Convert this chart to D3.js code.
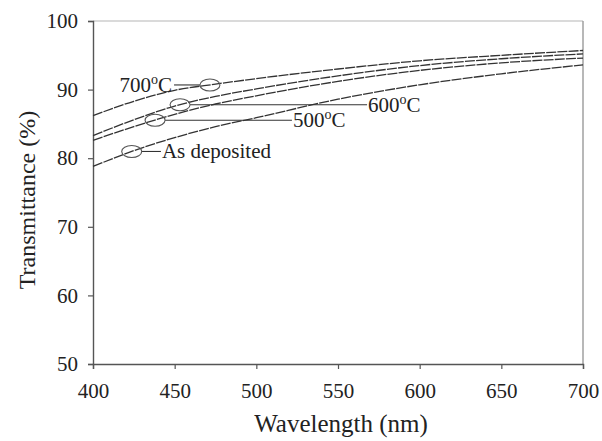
<!DOCTYPE html>
<html>
<head>
<meta charset="utf-8">
<script src="https://cdn.jsdelivr.net/npm/d3@7/dist/d3.min.js"></script>
<style>
  html, body { margin: 0; padding: 0; background: #fff; }
  svg { display: block; font-family: "Liberation Serif", "Times New Roman", serif; }
</style>
</head>
<body>
<svg id="chart" width="602" height="441"></svg>
<script>
// Wavelength samples (nm)
const wavelengths = [400, 425, 450, 475, 500, 550, 600, 650, 700];

// Transmittance (%) for each annealing condition
const asDeposited = [78.8, 81.1, 83.0, 84.6, 85.9, 88.6, 90.7, 92.3, 93.6];
const t500 = [82.6, 84.6, 86.4, 87.9, 89.1, 91.2, 92.8, 93.9, 94.6];
const t600 = [83.3, 85.6, 87.6, 89.0, 90.1, 92.0, 93.5, 94.5, 95.2];
const t700 = [86.2, 88.3, 89.9, 90.8, 91.6, 93.0, 94.2, 95.0, 95.7];

const xTicks = [400, 450, 500, 550, 600, 650, 700];
const yTicks = [50, 60, 70, 80, 90, 100];

// Curve labels: ellipse marker position (wavelength) and where the label text sits
const labelNames = ["700", "600", "500", "As deposited"];
const labelSeries = [t700, t600, t500, asDeposited];
const markerWl = [471.6, 453.3, 438, 423.7];
const textWl = [448.4, 568.4, 522.4, 442.2];
const textSide = ["left", "right", "right", "right"];

const svg = d3.select("#chart");
const W = 602, H = 441;
const margin = { top: 21, right: 19, bottom: 77, left: 93 };
const iw = W - margin.left - margin.right;
const ih = H - margin.top - margin.bottom;

const x = d3.scaleLinear().domain([400, 700]).range([0, iw]);
const y = d3.scaleLinear().domain([50, 100]).range([ih, 0]);

const g = svg.append("g").attr("transform", `translate(${margin.left},${margin.top})`);

// light frame on top and right
g.append("line").attr("x1", 0).attr("x2", iw).attr("y1", 0).attr("y2", 0)
  .attr("stroke", "#b5b5b5").attr("stroke-width", 1.2);
g.append("line").attr("x1", iw).attr("x2", iw).attr("y1", 0).attr("y2", ih)
  .attr("stroke", "#9a9a9a").attr("stroke-width", 1.4);

// axes
const xAxis = g.append("g").attr("transform", `translate(0,${ih})`)
  .call(d3.axisBottom(x).tickValues(xTicks).tickSizeOuter(0).tickSize(5).tickPadding(14));
const yAxis = g.append("g")
  .call(d3.axisLeft(y).tickValues(yTicks).tickSizeOuter(0).tickSize(5).tickPadding(10));

[xAxis, yAxis].forEach(a => {
  a.select(".domain").attr("stroke", "#555").attr("stroke-width", 1.4);
  a.selectAll(".tick line").attr("stroke", "#555").attr("stroke-width", 1.2);
  a.selectAll(".tick text").attr("fill", "#222")
    .style("font-family", "Liberation Serif, serif").style("font-size", "21px");
});

// axis titles
svg.append("text")
  .attr("x", 341).attr("y", 432)
  .attr("text-anchor", "middle").attr("fill", "#222")
  .style("font-size", "25px")
  .text("Wavelength (nm)");
svg.append("text")
  .attr("transform", `translate(35,200) rotate(-90)`)
  .attr("text-anchor", "middle").attr("fill", "#222")
  .style("font-size", "24px")
  .text("Transmittance (%)");

// curves
const line = d3.line()
  .x((d, i) => x(wavelengths[i]))
  .y(d => y(d))
  .curve(d3.curveMonotoneX);

[t700, t600, t500, asDeposited].forEach(s => {
  g.append("path").datum(s)
    .attr("d", line)
    .attr("fill", "none")
    .attr("stroke", "#333")
    .attr("stroke-width", 1.3)
    .attr("stroke-dasharray", "10,1.2");
});

// value along a series at a given wavelength
function valueAt(series, wl) {
  const i = Math.max(0, Math.min(wavelengths.length - 2, d3.bisectRight(wavelengths, wl) - 1));
  const t = (wl - wavelengths[i]) / (wavelengths[i + 1] - wavelengths[i]);
  return series[i] + t * (series[i + 1] - series[i]);
}

// labels with leader lines and ellipse markers
labelNames.forEach((name, k) => {
  const ex = x(markerWl[k]);
  const ey = y(valueAt(labelSeries[k], markerWl[k]));
  const tx = x(textWl[k]);
  const rx = 10, ry = 6;
  const lineStart = textSide[k] === "left" ? tx + 2 : ex + rx;
  const lineEnd = textSide[k] === "left" ? ex - rx : tx - 1;
  g.append("line")
    .attr("x1", lineStart).attr("x2", lineEnd)
    .attr("y1", ey).attr("y2", ey)
    .attr("stroke", "#333").attr("stroke-width", 1.1);
  g.append("ellipse")
    .attr("cx", ex).attr("cy", ey).attr("rx", rx).attr("ry", ry)
    .attr("fill", "none").attr("stroke", "#555").attr("stroke-width", 1.1);
  const t = g.append("text")
    .attr("x", tx).attr("y", ey).attr("dy", "0.33em")
    .attr("text-anchor", textSide[k] === "left" ? "end" : "start")
    .attr("fill", "#222")
    .style("font-size", "21px");
  if (name === "As deposited") {
    t.text(name);
  } else {
    t.append("tspan").text(name);
    t.append("tspan").attr("dy", -8).style("font-size", "14px").text("o");
    t.append("tspan").attr("dy", 8).text("C");
  }
});
</script>
</body>
</html>
